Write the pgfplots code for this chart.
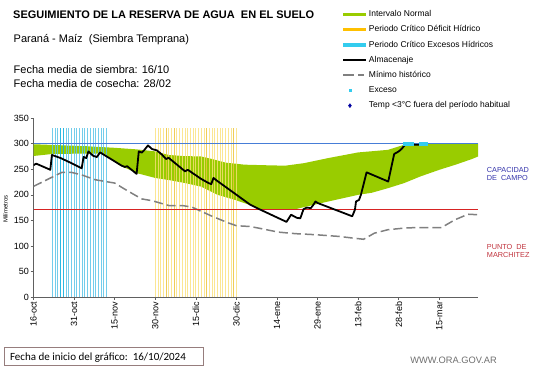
\documentclass[border=0pt]{standalone}
\usepackage{fontspec}
\setmainfont{Liberation Sans}
\newfontfamily\calibri{Carlito}
\usepackage{pgfplots}
\usepgfplotslibrary{fillbetween}
\pgfplotsset{compat=1.18}
\usepackage{pgfplotstable}

\definecolor{bandgreen}{RGB}{153,204,0}
\definecolor{legorange}{RGB}{255,192,0}
\definecolor{legcyan}{RGB}{51,204,238}
\definecolor{barcyan}{RGB}{90,196,232}
\definecolor{barcyandk}{RGB}{20,176,222}
\definecolor{baryellow}{RGB}{250,224,120}
\definecolor{baryellowdk}{RGB}{236,196,60}
\definecolor{dashgray}{RGB}{128,128,128}
\definecolor{tempblue}{RGB}{0,0,160}
\definecolor{captext}{RGB}{51,51,170}
\definecolor{pmtext}{RGB}{192,50,60}
\definecolor{boxcol}{RGB}{150,125,125}
\definecolor{urlgray}{RGB}{110,110,110}

\pgfplotstableread{
x y
0 299
10 297
20 295
30 292
38 289
45 285
50 278
55 276
62 275
66 270
71 263
78 259
85 258
93 257
100 262
109 272
120 283
131 288
137 298
138 300
164.3 300
}\bandupper

\pgfplotstableread{
x y
0 276
7 280
26 281
32 257
38.5 242
45 233
50 229
56 223
62 216
68 200
74.5 190
80 180
84 172
97 172
100 176
109 187
120 200
125 204
131 213
137 223
143 236
150 249
156 259
162 270
164.3 275
}\bandlower

\pgfplotstableread{
x y
0 258
1 261
6.2 249
6.8 278
10 272
14 262
17.8 252
18.5 274
19.5 272
20.3 285
22 276.5
23.4 274
24.6 283
32.6 257
33.8 254.5
34.6 256
38.1 241
38.9 285
40 282.6
41 288
42.3 296.7
43.8 289.6
45.6 287
47.5 278.5
49 270
49.9 272.6
56 246
57 249
62 231
64.7 223
65.7 221
66.5 233
67.7 228
80 181
83 173
93.5 147
95.2 161
97.3 155
98.6 154
99.8 172
101 175
102.5 174
103.5 181
104.2 187
105 184
117.8 158
118.8 171
119.2 187
120.3 190
121 200
123.1 244
131.1 226
133.3 280
134 282
135 285
136 289.6
137 296
137.6 299
140 299
141 298
142.5 298
143 300
145 300
}\almacdata

\pgfplotstableread{
x y
0 216.5
5.5 231
10.5 244
14 244
17.8 239
22.8 229.5
30 223
35 207
40 192
43.8 188.5
50 179
55 179
58.5 176
66 158
72 145
75 139.5
80 138
83 135
90.5 127
96.7 124
104 122
112.8 118.6
117.8 115.5
122 113
126 125
131 131.7
137.3 135
142 136
150.8 136
155.7 151
160.6 162
164.3 161
}\minhistdata

\pgfplotstableread{
x y
0 300
164.3 300
}\capdata

\pgfplotstableread{
x y
0 172
164.3 172
}\pmdata

\pgfplotsset{
  swatch/.style={legend image code/.code={\draw[##1] (0pt,0pt) -- (23pt,0pt);}},
  markswatch/.style={legend image code/.code={\path[draw=none] (0pt,0pt) -- (23pt,0pt); \path[##1, draw=none] plot[only marks] coordinates {(6.5pt,0pt)};}}
}

\begin{document}
\begin{tikzpicture}
\begin{axis}[
  at={(33pt,70.7pt)}, anchor=south west,
  scale only axis, width=445pt, height=179pt,
  xmin=0, xmax=164.3, ymin=0, ymax=350,
  axis x line*=bottom, axis y line*=left,
  axis line style={gray!75!black, line width=0.7pt},
  tick style={gray!75!black, line width=0.6pt},
  major tick length=3pt, tick align=outside,
  xtick={0,15,...,150},
  xticklabels={16-oct,31-oct,15-nov,30-nov,15-dic,30-dic,14-ene,29-ene,13-feb,28-feb,15-mar},
  ytick={0,50,...,350},
  tick label style={font=\fontsize{9}{10}\selectfont},
  /pgf/number format/assume math mode=true,
  xticklabel style={rotate=90, anchor=east, inner sep=1.5pt},
  yticklabel style={inner sep=1.5pt},
  ylabel={Milímetros},
  every axis y label/.style={at={(axis description cs:-0.0629,0.493)}, rotate=90, anchor=center, font=\fontsize{6}{7}\selectfont},
  legend style={at={(0.6932,1.602)}, anchor=north west, draw=none, fill=none,
    inner sep=0pt, outer sep=0pt, row sep=7.2pt,
    font=\fontsize{8.5}{10}\selectfont,
    nodes={inner sep=0pt, text height=6.2pt, text depth=1.8pt},
    /tikz/every odd column/.append style={column sep=0.8pt}},
  legend cell align=left,
]
% green band
\addplot[name path=U, draw=none, forget plot] table[x=x,y=y] {\bandupper};
\addplot[name path=L, draw=none, forget plot] table[x=x,y=y] {\bandlower};
\addplot[fill=bandgreen, draw=none, forget plot] fill between[of=U and L];

% critical period bars
\addplot[ycomb, color=barcyan, line width=0.9pt, opacity=0.85, forget plot] coordinates {
(7,330) (8,330) (9,330) (12,330) (13,330) (14,330) (15,330) (16,330) (17,330) (18,330)
(19,330) (20,330) (21,330) (22,330) (23,330) (24,330) (25,330) (26,330) (27,330)};
\addplot[ycomb, color=barcyandk, line width=1.2pt, opacity=0.9, forget plot] coordinates {(10,330) (11,330)};
\addplot[ycomb, color=baryellow, line width=0.9pt, opacity=0.8, forget plot] coordinates {
(45,330) (46,330) (47,330) (48,330) (50,330) (51,330) (53,330) (54,330) (55,330) (56,330)
(57,330) (58,330) (59,330) (60,330) (61,330) (62,330) (63,330) (65,330) (66,330) (67,330)
(68,330) (69,330) (70,330) (71,330) (72,330) (73,330) (75,330)};
\addplot[ycomb, color=baryellowdk, line width=1pt, opacity=0.85, forget plot] coordinates {(49,330) (52,330) (64,330) (74,330)};

% historical minimum
\addplot[dashgray, line width=1.5pt, dash pattern=on 9pt off 4pt, forget plot] table[x=x,y=y] {\minhistdata};

% capacity and wilting point
\addplot[draw={rgb,255:red,70;green,125;blue,215}, solid, mark=none, line width=1pt, forget plot] table[x=x,y=y] {\capdata};
\addplot[draw={rgb,255:red,215;green,35;blue,35}, solid, mark=none, line width=1pt, forget plot] table[x=x,y=y] {\pmdata};

% storage
\addplot[black, line width=1.8pt, line join=round, forget plot] table[x=x,y=y] {\almacdata};

% excess
\addplot[only marks, mark=square*, mark size=1.3pt, color=legcyan, forget plot] coordinates {
(137,300) (138,300) (139,300) (140,300) (143,300) (144,300) (145,300)};

% legend
\addlegendimage{swatch, line width=3.5pt, color=bandgreen}
\addlegendentry{Intervalo Normal}
\addlegendimage{swatch, line width=3.5pt, color=legorange}
\addlegendentry{Periodo Crítico Déficit Hídrico}
\addlegendimage{swatch, line width=3.5pt, color=legcyan}
\addlegendentry{Periodo Crítico Excesos Hídricos}
\addlegendimage{swatch, line width=2pt, color=black}
\addlegendentry{Almacenaje}
\addlegendimage{swatch, line width=1.6pt, color=dashgray, dash pattern=on 11pt off 4pt on 6pt off 10pt}
\addlegendentry{Mínimo histórico}
\addlegendimage{markswatch, mark=square*, mark size=1.2pt, color=legcyan}
\addlegendentry{Exceso}
\addlegendimage{markswatch, mark=diamond*, mark size=2pt, color=tempblue}
\addlegendentry{Temp <3°C fuera del período habitual}
\end{axis}

% texts
\node[anchor=base west, inner sep=0pt, font=\bfseries\fontsize{11}{13}\selectfont] at (12.5pt,349pt) {SEGUIMIENTO DE LA RESERVA DE AGUA\ \ EN EL SUELO};
\node[anchor=base west, inner sep=0pt, font=\fontsize{11}{13}\selectfont] at (13pt,325.3pt) {Paraná - Maíz\ \ (Siembra Temprana)};
\node[anchor=base west, inner sep=0pt, font=\fontsize{11}{13}\selectfont] at (13pt,294.5pt) {Fecha media de siembra: 16/10};
\node[anchor=base west, inner sep=0pt, font=\fontsize{11}{13}\selectfont] at (13pt,280.5pt) {Fecha media de cosecha: 28/02};

\node[anchor=base west, inner sep=0pt, text=captext, font=\fontsize{7.3}{8}\selectfont] at (486.7pt,195.3pt) {CAPACIDAD};
\node[anchor=base west, inner sep=0pt, text=captext, font=\fontsize{7.3}{8}\selectfont] at (486.7pt,187pt) {DE\ \ CAMPO};
\node[anchor=base west, inner sep=0pt, text=pmtext, font=\fontsize{7.3}{8}\selectfont] at (486.7pt,118.7pt) {PUNTO\ \ DE};
\node[anchor=base west, inner sep=0pt, text=pmtext, font=\fontsize{7.3}{8}\selectfont] at (486.7pt,110.3pt) {MARCHITEZ};

\draw[boxcol, line width=0.8pt] (4pt,2.3pt) rectangle (203pt,20.3pt);
\node[anchor=base west, inner sep=0pt, font=\calibri\fontsize{11}{13}\selectfont] at (9.3pt,7pt) {Fecha de inicio del gráfico:\ \ 16/10/2024};
\node[anchor=base west, inner sep=0pt, text=urlgray, font=\fontsize{9.3}{11}\selectfont] at (410pt,4.5pt) {WWW.ORA.GOV.AR};
\path (0,0) rectangle (541pt,368pt);
\end{tikzpicture}
\end{document}
